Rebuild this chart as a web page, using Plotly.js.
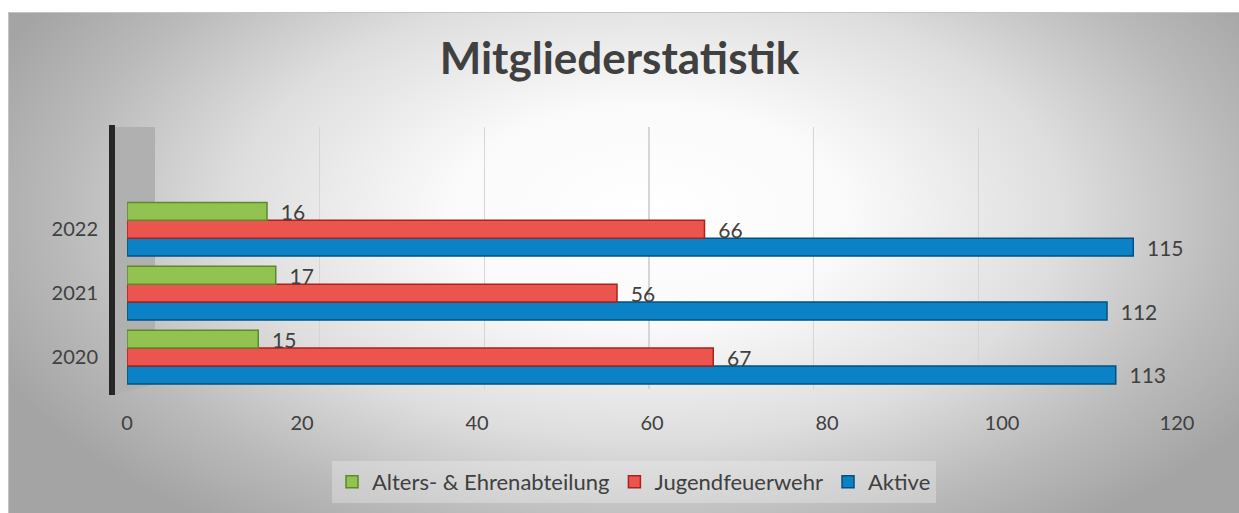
<!DOCTYPE html>
<html>
<head>
<meta charset="utf-8">
<script src="https://cdn.plot.ly/plotly-3.0.1.min.js"></script>
<style>
  html, body { margin: 0; padding: 0; background: #ffffff; }
  #bg {
    position: absolute; left: 8px; top: 12px; width: 1230px; height: 500px;
    border-top: 1px solid #c4c4c4; border-left: 1px solid #c4c4c4;
    background: radial-gradient(ellipse 58% 78% at 52% 40%, #ffffff 0%, #fafafa 28%, #dedede 58%, #bababa 82%, #a4a4a4 100%);
  }
  #chart { position: absolute; left: 0; top: 0; width: 1239px; height: 513px; }
</style>
</head>
<body>
<div id="bg"></div>
<div id="chart"></div>
<script>
// ---- data ----
const years = ['2020', '2021', '2022'];
const seriesNames = ['Alters- & Ehrenabteilung', 'Jugendfeuerwehr', 'Aktive'];
const altersEhren = [15, 17, 16];
const jugendfeuerwehr = [67, 56, 66];
const aktive = [113, 112, 115];
const xTicks = [0, 20, 40, 60, 80, 100, 120];

// ---- layout geometry ----
const W = 1239, H = 513;
const M = { l: 127, r: 62, t: 127, b: 124 };
const pw = W - M.l - M.r, ph = H - M.t - M.b;
const px = v => (v - M.l) / pw;
const py = v => (H - M.b - v) / ph;

const font = 'Lato, "Open Sans", "DejaVu Sans", sans-serif';
const txt = '#404040';

function barTrace(name, vals, fill, line) {
  return {
    type: 'bar', orientation: 'h', name: name,
    y: years, x: vals, xaxis: 'x2', yaxis: 'y',
    marker: { color: fill, line: { color: line, width: 1.5 } },
    text: vals.map(v => '\u00a0\u00a0' + v),
    textposition: 'outside',
    constraintext: 'none',
    textfont: { family: font, size: 21, color: txt },
    cliponaxis: false,
    hoverinfo: 'x+name'
  };
}

const data = [
  // empty helper trace so the back-wall grid axis (x) is drawn
  { type: 'scatter', x: [], y: [], xaxis: 'x', yaxis: 'y', showlegend: false, hoverinfo: 'skip' },
  barTrace(seriesNames[2], aktive, '#0b82c6', '#05507e'),
  barTrace(seriesNames[1], jugendfeuerwehr, '#ec544e', '#a82320'),
  barTrace(seriesNames[0], altersEhren, '#92c24f', '#5b8a2a')
];

const layout = {
  width: W, height: H,
  margin: M,
  paper_bgcolor: 'rgba(0,0,0,0)',
  plot_bgcolor: 'rgba(0,0,0,0)',
  barmode: 'group', bargap: 0.16, bargroupgap: 0,
  title: {
    text: '<b>Mitgliederstatistik</b>',
    font: { family: font, size: 44, color: txt },
    x: 0.5, xref: 'container', xanchor: 'center',
    y: 1 - 59 / H, yref: 'container', yanchor: 'middle'
  },
  // back wall: gridlines only
  xaxis: {
    anchor: 'y',
    domain: [px(155), px(1143)],
    range: [0, 120], tickvals: xTicks,
    showgrid: true, gridcolor: 'rgba(212,212,212,0.95)', gridwidth: 1.5,
    zeroline: false, showline: false, showticklabels: false, ticks: '',
    fixedrange: true
  },
  // front plane: bars and tick labels
  xaxis2: {
    anchor: 'y', domain: [0, 1],
    range: [0, 120], tickvals: xTicks, ticktext: xTicks.map(String),
    showgrid: false, zeroline: false, showline: false, ticks: '',
    ticklabelstandoff: 20,
    tickfont: { family: font, size: 20, color: txt },
    fixedrange: true
  },
  yaxis: {
    anchor: 'x2',
    type: 'category', range: [-0.5, 3.6],
    showgrid: false, zeroline: false, showline: false, ticks: '',
    ticklabelstandoff: 28,
    tickfont: { family: font, size: 20, color: txt },
    fixedrange: true
  },
  legend: {
    orientation: 'h', traceorder: 'reversed',
    x: (634 / W), xref: 'container', xanchor: 'center',
    y: (H - 482) / H, yref: 'container', yanchor: 'middle',
    font: { family: font, size: 22, color: txt },
    bgcolor: 'rgba(240,240,240,0.35)',
    borderwidth: 0,
    itemwidth: 30
  },
  shapes: [
    { type: 'path', xref: 'paper', yref: 'paper', layer: 'below',
      path: `M${px(114)},${py(127)} L${px(155)},${py(127)} L${px(155)},${py(384)} L${px(114)},${py(395)} Z`,
      fillcolor: '#b0b0b0', line: { width: 0 } },
    { type: 'rect', xref: 'paper', yref: 'paper', layer: 'below',
      x0: px(109), x1: px(115), y0: py(125), y1: py(395),
      fillcolor: '#262626', line: { width: 0 } }
  ],
  showlegend: true
};

Plotly.newPlot('chart', data, layout, { displayModeBar: false, staticPlot: true });
</script>
</body>
</html>
